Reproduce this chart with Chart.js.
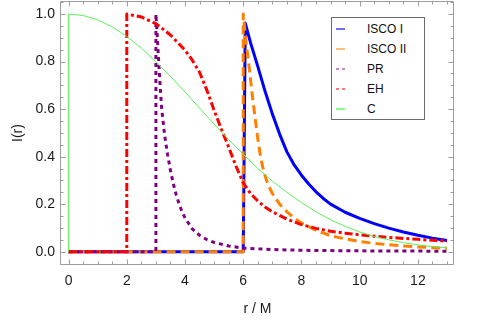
<!DOCTYPE html>
<html>
<head>
<meta charset="utf-8">
<script src="https://cdn.jsdelivr.net/npm/chart.js@4.4.0/dist/chart.umd.min.js"></script>
<style>
html,body{margin:0;padding:0;background:#fff;}
#wrap{position:relative;width:480px;height:327px;overflow:hidden;}
#legend{position:absolute;left:331px;top:17px;width:94px;height:103px;border:1px solid #6b6b6b;background:#fff;box-sizing:border-box;font-family:"Liberation Sans",Arial,sans-serif;font-size:12px;color:#111;}
.row{position:absolute;left:0;height:14px;line-height:14px;width:90px;}
.sample{position:absolute;left:4px;top:6px;width:9px;height:2px;}
.lab{position:absolute;left:35px;top:0;white-space:nowrap;}
</style>
</head>
<body>
<div id="wrap">
  <canvas id="c" width="480" height="327"></canvas>
  <div id="legend"></div>
</div>
<script>
// ---------------- data ----------------
const seriesLabels = ['ISCO I', 'ISCO II', 'PR', 'EH', 'C'];
const xTickVals = [0, 2, 4, 6, 8, 10, 12];
const yTickVals = [0.0, 0.2, 0.4, 0.6, 0.8, 1.0];

const iscoIX = [0, 6, 6.07, 6.25, 6.5, 6.75, 7, 7.25, 7.5, 7.75, 8, 8.25, 8.5, 8.75, 9, 9.5, 10, 10.5, 11, 11.5, 12, 12.5, 13];
const iscoIY = [0, 0, 0.962, 0.88, 0.78, 0.675, 0.58, 0.495, 0.42, 0.365, 0.322, 0.285, 0.252, 0.224, 0.2, 0.166, 0.14, 0.118, 0.099, 0.083, 0.069, 0.057, 0.047];

const iscoIIX = [0, 6, 6, 6.1, 6.2, 6.3, 6.4, 6.5, 6.6, 6.7, 6.8, 6.9, 7, 7.25, 7.5, 7.75, 8, 8.5, 9, 9.5, 10, 10.5, 11, 11.5, 12, 12.5, 13];
const iscoIIY = [0, 0, 1.0, 0.88, 0.78, 0.67, 0.57, 0.475, 0.395, 0.34, 0.3, 0.27, 0.245, 0.2, 0.168, 0.142, 0.121, 0.09, 0.067, 0.054, 0.043, 0.035, 0.029, 0.024, 0.02, 0.017, 0.015];

const prX = [0, 3, 3, 3.05, 3.1, 3.15, 3.2, 3.3, 3.4, 3.5, 3.6, 3.7, 3.8, 3.9, 4, 4.25, 4.5, 4.75, 5, 5.5, 6, 7, 8, 9, 10, 11, 12, 13];
const prY = [0, 0, 1.0, 0.9, 0.79, 0.69, 0.6, 0.49, 0.41, 0.342, 0.285, 0.238, 0.2, 0.168, 0.142, 0.096, 0.069, 0.051, 0.039, 0.024, 0.015, 0.009, 0.006, 0.0045, 0.0035, 0.003, 0.0025, 0.002];

const ehX = [0, 2, 2, 2.5, 3, 3.5, 4, 4.25, 4.5, 4.75, 5, 5.25, 5.5, 5.75, 6, 6.25, 6.5, 6.75, 7, 7.5, 8, 8.5, 9, 9.5, 10, 10.5, 11, 11.5, 12, 12.5, 13];
const ehY = [0, 0, 1.0, 0.988, 0.96, 0.912, 0.848, 0.806, 0.755, 0.68, 0.595, 0.515, 0.44, 0.36, 0.29, 0.245, 0.213, 0.188, 0.168, 0.137, 0.114, 0.098, 0.086, 0.078, 0.071, 0.065, 0.06, 0.056, 0.052, 0.048, 0.045];

const cX = [0, 0, 0.5, 1, 1.5, 2, 2.5, 3, 3.5, 4, 4.5, 5, 5.5, 6, 6.5, 7, 7.5, 8, 8.5, 9, 9.5, 10, 10.5, 11, 11.5, 12, 12.5, 13];
const cY = [0, 1.0, 0.994, 0.976, 0.946, 0.906, 0.857, 0.80, 0.738, 0.672, 0.604, 0.537, 0.471, 0.41, 0.35, 0.297, 0.25, 0.207, 0.168, 0.134, 0.107, 0.083, 0.064, 0.05, 0.038, 0.029, 0.021, 0.016];

// ---------------- styles ----------------
const FONT = '"Liberation Sans", Arial, sans-serif';
const styles = [
  {color: 'rgb(0,0,255)',   width: 3, dash: [],           order: 5, sample: 'rgba(60,60,255,0.75)',  dotted: false},
  {color: 'rgb(255,128,0)', width: 3, dash: [9, 5],       order: 4, sample: 'rgba(255,150,40,0.6)',  dotted: false},
  {color: 'rgb(128,0,128)', width: 3, dash: [4, 4],       order: 3, sample: 'rgba(160,50,160,0.6)',  dotted: true},
  {color: 'rgb(255,0,0)',   width: 3, dash: [8, 3, 3, 3], order: 2, sample: 'rgba(255,40,40,0.65)',  dotted: true},
  {color: 'rgb(90,240,90)', width: 1, dash: [],           order: 1, sample: 'rgba(100,255,100,0.8)', dotted: false}
];
const seriesXY = [[iscoIX, iscoIY], [iscoIIX, iscoIIY], [prX, prY], [ehX, ehY], [cX, cY]];
const mk = (xs, ys) => xs.map((v, i) => ({x: v, y: ys[i]}));

const datasets = seriesXY.map((s, i) => ({
  label: seriesLabels[i],
  data: mk(s[0], s[1]),
  borderColor: styles[i].color,
  backgroundColor: styles[i].color,
  borderWidth: styles[i].width,
  borderDash: styles[i].dash,
  borderCapStyle: 'butt',
  borderJoinStyle: 'round',
  pointRadius: 0,
  tension: 0,
  fill: false,
  order: styles[i].order
}));

// frame with inward ticks on all four sides
const framePlugin = {
  id: 'frame',
  afterDatasetsDraw(chart) {
    const {ctx, chartArea: a, scales} = chart;
    const xs = scales.x, ys = scales.y;
    ctx.save();
    ctx.strokeStyle = '#9c9c9c';
    ctx.lineWidth = 1;
    const L = Math.round(a.left) - 0.5, R = Math.round(a.right) - 0.5;
    const T = Math.round(a.top) + 0.5, B = Math.round(a.bottom) - 0.5;
    ctx.beginPath();
    ctx.rect(L, T, R - L, B - T);
    ctx.stroke();
    ctx.beginPath();
    for (let k = 0; k <= 26; k++) {
      const v = k * 0.5;
      const major = xTickVals.includes(v);
      const len = major ? 5 : 3;
      const px = Math.round(xs.getPixelForValue(v)) + 0.5;
      ctx.moveTo(px, B); ctx.lineTo(px, B - len);
      ctx.moveTo(px, T); ctx.lineTo(px, T + len);
    }
    for (let k = -1; k <= 21; k++) {
      const v = Math.round(k * 0.05 * 100) / 100;
      if (v < ys.min || v > ys.max) continue;
      const major = yTickVals.some(t => Math.abs(t - v) < 1e-9);
      const len = major ? 5 : 3;
      const py = Math.round(ys.getPixelForValue(v)) + 0.5;
      ctx.moveTo(L, py); ctx.lineTo(L + len, py);
      ctx.moveTo(R, py); ctx.lineTo(R - len, py);
    }
    ctx.stroke();
    ctx.restore();
  }
};

const chart = new Chart(document.getElementById('c'), {
  type: 'line',
  data: {datasets},
  plugins: [framePlugin],
  options: {
    responsive: false,
    animation: false,
    devicePixelRatio: 1,
    events: [],
    layout: {padding: {left: 0, top: 1, right: 26, bottom: 0}},
    plugins: {legend: {display: false}, tooltip: {enabled: false}},
    scales: {
      x: {
        type: 'linear',
        min: -0.26, max: 13.24,
        grid: {display: false, drawTicks: false},
        border: {display: false},
        afterBuildTicks: s => { s.ticks = xTickVals.map(v => ({value: v})); },
        afterFit: s => { s.height = 62; s.paddingLeft = 0; s.paddingRight = 0; },
        ticks: {
          padding: 8,
          maxRotation: 0,
          autoSkip: false,
          color: '#1a1a1a',
          font: {family: FONT, size: 14},
          callback: v => String(v)
        },
        title: {display: true, text: 'r / M', color: '#1a1a1a', font: {family: FONT, size: 14}, padding: {top: 0, bottom: 9}}
      },
      y: {
        type: 'linear',
        min: -0.056, max: 1.055,
        grid: {display: false, drawTicks: false},
        border: {display: false},
        afterBuildTicks: s => { s.ticks = yTickVals.map(v => ({value: v})); },
        afterFit: s => { s.width = 61; s.paddingTop = 0; s.paddingBottom = 0; },
        ticks: {
          padding: 6,
          autoSkip: false,
          color: '#1a1a1a',
          font: {family: FONT, size: 14},
          callback: v => Number(v).toFixed(1)
        },
        title: {display: true, text: 'I(r)', color: '#1a1a1a', font: {family: FONT, size: 14}, padding: {top: 10, bottom: 0}}
      }
    }
  }
});

// HTML legend built from the chart's datasets
const legendEl = document.getElementById('legend');
chart.data.datasets.forEach((ds, i) => {
  const row = document.createElement('div');
  row.className = 'row';
  row.style.top = (4 + i * 19.9) + 'px';
  const sm = document.createElement('div');
  sm.className = 'sample';
  const c = styles[i].sample;
  sm.style.background = styles[i].dotted
    ? `repeating-linear-gradient(90deg, ${c} 0 3px, transparent 3px 6px)`
    : c;
  const lb = document.createElement('div');
  lb.className = 'lab';
  lb.textContent = ds.label;
  row.appendChild(sm);
  row.appendChild(lb);
  legendEl.appendChild(row);
});
</script>
</body>
</html>
